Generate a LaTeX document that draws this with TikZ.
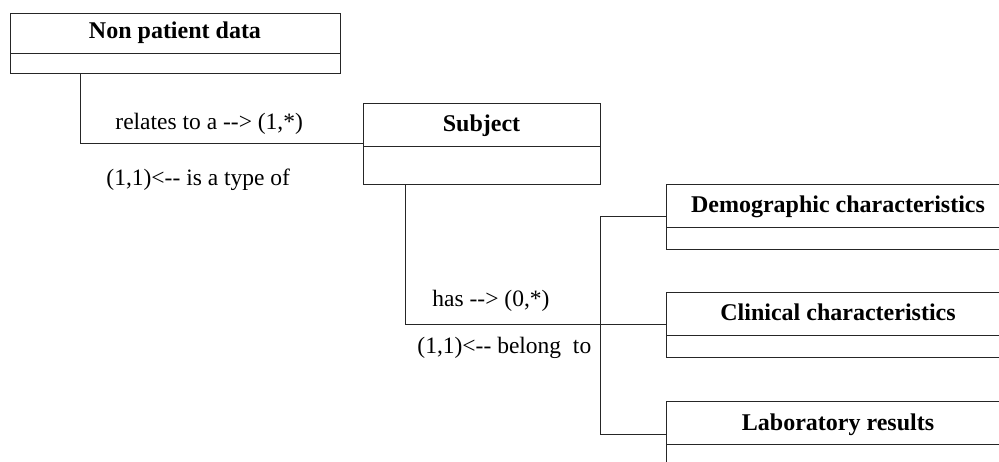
\documentclass[tikz,border=0pt]{standalone}
\usepackage{fontspec}
\setmainfont{Liberation Serif}
\begin{document}
\begin{tikzpicture}[x=1pt,y=-1pt,
  line width=0.9pt,
  umlbox/.style={draw=black!85, rectangle, inner sep=0pt, anchor=north west},
  divider/.style={draw=black!85},
  wire/.style={draw=black!85},
  title/.style={inner sep=0pt, anchor=base, font=\fontsize{24}{28}\selectfont\bfseries},
  lbl/.style={inner sep=0pt, anchor=base west, font=\fontsize{23.5}{28}\selectfont}]
\useasboundingbox (0,0) rectangle (999,462);
\clip (0,0) rectangle (999,462);
% boxes
\node[umlbox, minimum width=330pt, minimum height=60pt] (npd) at (10,13) {};
\node[umlbox, minimum width=237pt, minimum height=81pt] (subj) at (363,103) {};
\node[umlbox, minimum width=344pt, minimum height=65pt] (demo) at (666,184) {};
\node[umlbox, minimum width=344pt, minimum height=65pt] (clin) at (666,292) {};
\node[umlbox, minimum width=344pt, minimum height=65pt] (lab) at (666,401) {};
% dividers
\draw[divider] (10,53) -- (340,53);
\draw[divider] (363,146) -- (600,146);
\draw[divider] (666,227) -- (1010,227);
\draw[divider] (666,335) -- (1010,335);
\draw[divider] (666,444) -- (1010,444);
% titles
\node[title] (npdT) at (175,39) {Non patient data};
\node[title] (subjT) at (481.5,132) {Subject};
\node[title] (demoT) at (838,213) {Demographic characteristics};
\node[title] (clinT) at (838,321) {Clinical characteristics};
\node[title] (labT) at (838,430) {Laboratory results};
% connectors
\coordinate (c1) at ([xshift=70pt]npd.south west);
\draw[wire] (c1) |- (subj.west);
\coordinate (c2) at ([xshift=42pt]subj.south west);
\draw[wire] (c2) |- (clin.west);
\coordinate (bus) at (600,0);
\draw[wire] (demo.west) -- (demo.west -| bus) -- (lab.west -| bus) -- (lab.west);
% labels
\node[lbl] (l1) at (115,130) {relates to a -{}-> (1,*)};
\node[lbl] (l2) at (106,186) {(1,1)<-{}- is a type of};
\node[lbl] (l3) at (432,307) {has -{}-> (0,*)};
\node[lbl] (l4) at (417,353) {(1,1)<-{}- belong\ \ to};
\end{tikzpicture}
\end{document}
